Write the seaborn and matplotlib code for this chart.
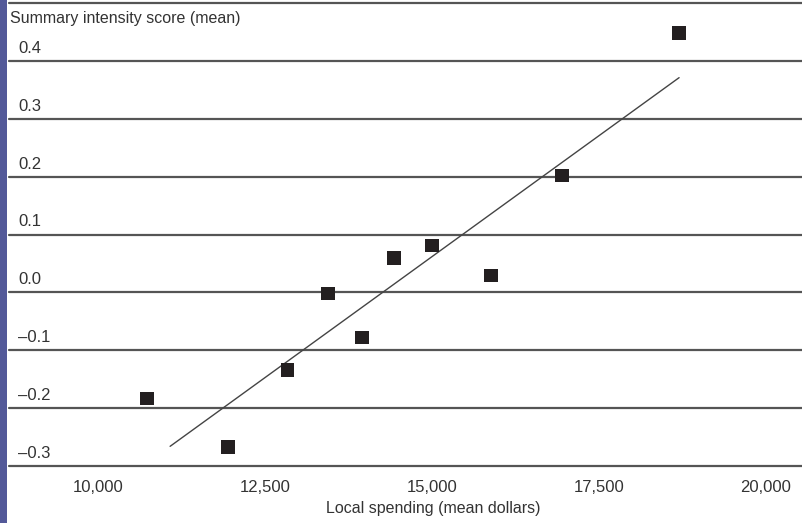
import numpy as np
import pandas as pd
import matplotlib
matplotlib.use("Agg")
import matplotlib.pyplot as plt
import seaborn as sns
from matplotlib.patches import Rectangle
from matplotlib.transforms import ScaledTranslation, blended_transform_factory

# Données
spending = [10730, 11950, 12840, 13440, 13950, 14430, 15000, 15880, 16950, 18700]
score = [-0.183, -0.267, -0.134, -0.002, -0.078, 0.059, 0.081, 0.029, 0.202, 0.448]

# Droite de tendance (extrémités lues)
fit_x = [11080, 18700]
fit_y = [-0.266, 0.371]

y_ticks = [-0.3, -0.2, -0.1, 0.0, 0.1, 0.2, 0.3, 0.4]
x_ticks = [10000, 12500, 15000, 17500, 20000]

df = pd.DataFrame({"spending": spending, "score": score})
fit_df = pd.DataFrame({"x": fit_x, "y": fit_y})

sns.set_theme(style="white")
plt.rcParams["font.family"] = ["Liberation Sans", "DejaVu Sans"]

text_col = "#333333"
grid_col = "#555555"

fig = plt.figure(figsize=(8.02, 5.23), dpi=100)
ax = fig.add_axes([9 / 802, 57 / 523, 793 / 802, 463 / 523])

# bande violette à gauche
fig.patches.append(Rectangle((0, 0), 7 / 802, 1, transform=fig.transFigure,
                             facecolor="#535999", edgecolor="none", zorder=0))

# lignes horizontales
for v in y_ticks + [0.5]:
    ax.axhline(v, color=grid_col, lw=1.6, zorder=1, clip_on=False)

sns.lineplot(data=fit_df, x="x", y="y", ax=ax, color="#444444", lw=1.0, zorder=2)
sns.scatterplot(data=df, x="spending", y="score", ax=ax, marker="s", s=95,
                color="#231f20", edgecolor="none", zorder=3)

ax.set_xlim(8668, 20540)
ax.set_ylim(-0.3, 0.5)
for s in ax.spines.values():
    s.set_visible(False)

ax.set_xticks(x_ticks)
ax.set_xticklabels([f"{v:,}" for v in x_ticks], fontsize=12, color=text_col)
ax.tick_params(axis="x", length=0, pad=10)

ax.set_yticks(y_ticks)
ax.set_yticklabels([f"{v:.1f}".replace("-", "\u2013") for v in y_ticks],
                   fontsize=12, color=text_col, ha="left", va="bottom")
ax.tick_params(axis="y", length=0, pad=0)
off = ScaledTranslation(9 / 100, 5 / 100, fig.dpi_scale_trans)
for lab in ax.get_yticklabels():
    lab.set_transform(lab.get_transform() + off)

ax.set_xlabel("Local spending (mean dollars)", fontsize=11.5, color=text_col)
ax.xaxis.set_label_coords((433 - 9) / 793, -0.091)
ax.xaxis.label.set_va("center")
ax.set_ylabel("")

trans = blended_transform_factory(ax.transAxes, ax.transData)
ax.text(0.001, 0.474, "Summary intensity score (mean)", transform=trans,
        fontsize=11.5, color=text_col, ha="left", va="center")

fig.savefig("out.png", dpi=100, facecolor="white")
